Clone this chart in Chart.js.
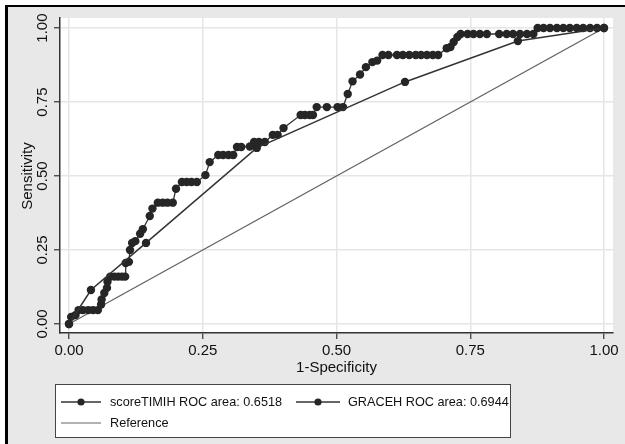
<!DOCTYPE html>
<html>
<head>
<meta charset="utf-8">
<script src="https://cdn.jsdelivr.net/npm/chart.js@4/dist/chart.umd.min.js"></script>
<style>
  html, body { margin: 0; padding: 0; background: #ffffff; }
  #wrap { width: 625px; height: 444px; position: relative; }
</style>
</head>
<body>
<div id="wrap"><canvas id="c" width="625" height="444"></canvas></div>
<script>
// ---- data ----
const xTicks = [0, 0.25, 0.5, 0.75, 1];
const yTicks = [0, 0.25, 0.5, 0.75, 1];
const xTitle = "1-Specificity";
const yTitle = "Sensitivity";
const seriesLabels = ["scoreTIMIH ROC area: 0.6518", "GRACEH ROC area: 0.6944", "Reference"];

const timiX = [0, 0.041, 0.144, 0.351, 0.628, 0.839, 1];
const timiY = [0, 0.115, 0.274, 0.595, 0.818, 0.956, 1];

const graceX = [0, 0.004, 0.012, 0.018, 0.026, 0.036, 0.045, 0.054, 0.060, 0.061,
  0.066, 0.071, 0.072, 0.077, 0.085, 0.092, 0.099, 0.105, 0.106, 0.112,
  0.114, 0.118, 0.124, 0.133, 0.138, 0.151, 0.156, 0.166, 0.175, 0.184,
  0.194, 0.200, 0.211, 0.220, 0.229, 0.239, 0.255, 0.263, 0.279, 0.288,
  0.298, 0.307, 0.314, 0.322, 0.338, 0.346, 0.355, 0.366, 0.381, 0.390,
  0.401, 0.433, 0.441, 0.450, 0.456, 0.463, 0.482, 0.502, 0.512, 0.521,
  0.530, 0.544, 0.555, 0.567, 0.576, 0.586, 0.597, 0.613, 0.624, 0.636,
  0.648, 0.658, 0.669, 0.680, 0.690, 0.706, 0.713, 0.719, 0.726, 0.732,
  0.745, 0.756, 0.768, 0.781, 0.804, 0.818, 0.830, 0.843, 0.856, 0.868,
  0.876, 0.887, 0.899, 0.912, 0.924, 0.936, 0.949, 0.961, 0.974, 0.987, 1.0];
const graceY = [0, 0.024, 0.030, 0.047, 0.047, 0.047, 0.047, 0.047, 0.066, 0.083,
  0.105, 0.122, 0.143, 0.160, 0.160, 0.160, 0.160, 0.160, 0.206, 0.210,
  0.250, 0.274, 0.280, 0.305, 0.320, 0.365, 0.390, 0.410, 0.410, 0.410,
  0.410, 0.457, 0.480, 0.480, 0.480, 0.480, 0.503, 0.547, 0.571, 0.571,
  0.571, 0.571, 0.598, 0.598, 0.600, 0.615, 0.615, 0.615, 0.639, 0.639,
  0.662, 0.706, 0.706, 0.706, 0.706, 0.733, 0.733, 0.733, 0.733, 0.777,
  0.820, 0.843, 0.868, 0.885, 0.890, 0.909, 0.909, 0.909, 0.909, 0.909,
  0.909, 0.909, 0.909, 0.909, 0.909, 0.932, 0.936, 0.953, 0.970, 0.980,
  0.980, 0.980, 0.980, 0.980, 0.980, 0.980, 0.980, 0.980, 0.980, 0.980,
  1.0, 1.0, 1.0, 1.0, 1.0, 1.0, 1.0, 1.0, 1.0, 1.0, 1.0];

const refX = [0, 1];
const refY = [0, 1];

const toPts = (xs, ys) => xs.map((x, i) => ({ x: x, y: ys[i] }));

// ---- styling ----
const FONT = "'Liberation Sans', Arial, Helvetica, sans-serif";
const MARK = '#262626';

const framePlugin = {
  id: 'frame',
  beforeDraw(chart) {
    const ctx = chart.ctx, a = chart.chartArea;
    ctx.save();
    ctx.fillStyle = '#ffffff';
    ctx.fillRect(0, 0, chart.width, chart.height);
    ctx.fillStyle = '#e8e8e8';
    ctx.fillRect(5, 5, chart.width - 5, chart.height - 5);
    ctx.fillStyle = '#000000';
    ctx.fillRect(5, 5, 3, chart.height - 5);
    ctx.fillRect(5, 5, chart.width - 5, 2);
    ctx.fillStyle = '#ffffff';
    ctx.fillRect(a.left, a.top, a.right - a.left, a.bottom - a.top);
    ctx.restore();
  },
  afterDraw(chart) {
    const ctx = chart.ctx, a = chart.chartArea;
    const ys = chart.scales.y;
    ctx.save();
    ctx.fillStyle = '#111111';
    ctx.font = '15px ' + FONT;
    ctx.textAlign = 'center';
    ctx.textBaseline = 'middle';
    // y tick labels (rotated)
    yTicks.forEach(v => {
      const py = ys.getPixelForValue(v);
      ctx.save();
      ctx.translate(43, py);
      ctx.rotate(-Math.PI / 2);
      ctx.fillText(v.toFixed(2), 0, 0);
      ctx.restore();
    });
    // y title
    ctx.save();
    ctx.translate(28, ys.getPixelForValue(0.5));
    ctx.rotate(-Math.PI / 2);
    ctx.fillText(yTitle, 0, 0);
    ctx.restore();
    // x title
    ctx.fillText(xTitle, (a.left + a.right) / 2, 368);

    // legend
    const bx = 55, by = 384, bw = 455, bh = 53;
    ctx.fillStyle = '#ffffff';
    ctx.fillRect(bx, by, bw, bh);
    ctx.strokeStyle = '#444444';
    ctx.lineWidth = 1;
    ctx.strokeRect(bx + 0.5, by + 0.5, bw, bh);

    const r1 = 402, r2 = 423;
    function sample(x0, x1, y, color, width, marker) {
      ctx.strokeStyle = color;
      ctx.lineWidth = width;
      ctx.beginPath();
      ctx.moveTo(x0, y);
      ctx.lineTo(x1, y);
      ctx.stroke();
      if (marker) {
        ctx.fillStyle = MARK;
        ctx.beginPath();
        ctx.arc((x0 + x1) / 2, y, 3.6, 0, Math.PI * 2);
        ctx.fill();
      }
    }
    sample(61, 101, r1, '#333333', 1.3, true);
    sample(296, 340, r1, '#333333', 1.3, true);
    sample(61, 101, r2, '#666666', 1.2, false);

    ctx.save();
    ctx.beginPath();
    ctx.rect(bx, by, bw + 1, bh);
    ctx.clip();
    ctx.fillStyle = '#111111';
    ctx.font = '12.7px ' + FONT;
    ctx.textAlign = 'left';
    ctx.textBaseline = 'middle';
    ctx.fillText(seriesLabels[0], 110, r1);
    ctx.fillText(seriesLabels[1], 348, r1);
    ctx.fillText(seriesLabels[2], 110, r2);
    ctx.restore();
    ctx.restore();
  }
};

new Chart(document.getElementById('c'), {
  type: 'scatter',
  data: {
    datasets: [
      {
        label: seriesLabels[0],
        data: toPts(timiX, timiY),
        showLine: true,
        borderColor: '#333333',
        borderWidth: 1.5,
        pointBackgroundColor: MARK,
        pointBorderColor: MARK,
        pointRadius: 4.2,
        pointBorderWidth: 0
      },
      {
        label: seriesLabels[1],
        data: toPts(graceX, graceY),
        showLine: true,
        borderColor: '#333333',
        borderWidth: 1.3,
        pointBackgroundColor: MARK,
        pointBorderColor: MARK,
        pointRadius: 4.2,
        pointBorderWidth: 0
      },
      {
        label: seriesLabels[2],
        data: toPts(refX, refY),
        showLine: true,
        borderColor: '#606060',
        borderWidth: 1.2,
        pointRadius: 0
      }
    ]
  },
  options: {
    responsive: false,
    animation: false,
    devicePixelRatio: 1,
    layout: { padding: { left: 0, right: 12, top: 18, bottom: 0 } },
    plugins: { legend: { display: false }, tooltip: { enabled: false } },
    scales: {
      x: {
        type: 'linear',
        min: -0.0168,
        max: 1.0168,
        afterBuildTicks: s => { s.ticks = xTicks.map(v => ({ value: v })); },
        afterFit: s => { s.height = 111; s.paddingLeft = 0; s.paddingRight = 0; },
        grid: { color: '#e6e6e6', lineWidth: 1.5, tickColor: '#333333', tickLength: 6, tickWidth: 1.2 },
        border: { display: true, color: '#333333', width: 1.5 },
        ticks: {
          padding: 3,
          color: '#111111',
          font: { family: FONT, size: 15 },
          maxRotation: 0,
          callback: v => Number(v).toFixed(2)
        }
      },
      y: {
        type: 'linear',
        min: -0.0304,
        max: 1.034,
        afterBuildTicks: s => { s.ticks = yTicks.map(v => ({ value: v })); },
        afterFit: s => { s.width = 60; s.paddingTop = 0; s.paddingBottom = 0; },
        grid: { color: '#e6e6e6', lineWidth: 1.5, tickColor: '#333333', tickLength: 6, tickWidth: 1.2 },
        border: { display: true, color: '#333333', width: 1.5 },
        ticks: { display: false }
      }
    }
  },
  plugins: [framePlugin]
});
</script>
</body>
</html>
